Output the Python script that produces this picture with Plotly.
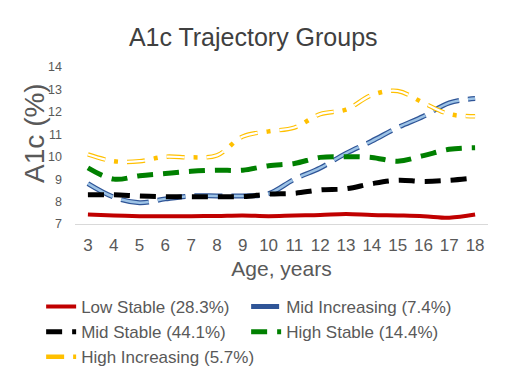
import plotly.graph_objects as go

ages = [str(a) for a in range(3, 19)]
low_stable = [7.42, 7.38, 7.35, 7.34, 7.35, 7.36, 7.38, 7.35, 7.38, 7.40, 7.45, 7.40, 7.38, 7.35, 7.28, 7.42]
mid_increasing = [8.8, 8.2, 7.95, 8.12, 8.25, 8.25, 8.25, 8.35, 9.0, 9.5, 10.15, 10.7, 11.3, 11.8, 12.4, 12.6]
mid_stable = [8.3, 8.3, 8.25, 8.22, 8.22, 8.22, 8.22, 8.33, 8.37, 8.52, 8.57, 8.8, 8.95, 8.9, 8.95, 9.06]
high_stable = [9.5, 9.0, 9.15, 9.25, 9.35, 9.4, 9.4, 9.6, 9.7, 9.97, 10.0, 9.97, 9.8, 10.05, 10.33, 10.4]
high_increasing = [10.1, 9.8, 9.8, 10.0, 9.97, 10.06, 10.9, 11.13, 11.3, 11.9, 12.1, 12.75, 12.93, 12.4, 11.9, 11.8]

names = ["Low Stable (28.3%)", "Mid Increasing (7.4%)", "Mid Stable (44.1%)",
         "High Stable (14.4%)", "High Increasing (5.7%)"]

fig = go.Figure()
# Low stable - solid red
fig.add_trace(go.Scatter(x=ages, y=low_stable, mode="lines", name=names[0],
                         line=dict(color="#C00000", width=4, shape="spline")))
# Mid increasing - outlined blue long dash
fig.add_trace(go.Scatter(x=ages, y=mid_increasing, mode="lines", name=names[1],
                         line=dict(color="#2F5597", width=5, dash="28px,9px", shape="spline")))
fig.add_trace(go.Scatter(x=ages, y=mid_increasing, mode="lines", showlegend=False,
                         line=dict(color="#9DC3E6", width=2.5, dash="28px,9px", shape="spline")))
# Mid stable - black dash
fig.add_trace(go.Scatter(x=ages, y=mid_stable, mode="lines", name=names[2],
                         line=dict(color="#000000", width=5, dash="16px,10px", shape="spline")))
# High stable - green dash
fig.add_trace(go.Scatter(x=ages, y=high_stable, mode="lines", name=names[3],
                         line=dict(color="#008000", width=5, dash="16px,10px", shape="spline")))
# High increasing - outlined yellow long dash dot
fig.add_trace(go.Scatter(x=ages, y=high_increasing, mode="lines", name=names[4],
                         line=dict(color="#FFC000", width=4.5, dash="18px,9px,4px,9px", shape="spline")))
fig.add_trace(go.Scatter(x=ages, y=high_increasing, mode="lines", showlegend=False,
                         line=dict(color="#FFFFFF", width=2.2, dash="18px,22px", shape="spline")))

fig.add_annotation(text="A1c (%)", xref="paper", yref="paper", x=-0.097, y=0.58,
                   xanchor="center", yanchor="middle", textangle=-90, showarrow=False,
                   font=dict(size=28, color="#595959"))

fig.update_layout(
    width=520, height=388,
    paper_bgcolor="white", plot_bgcolor="white",
    font=dict(family="Liberation Sans, Arial, sans-serif", color="#595959"),
    margin=dict(l=75, r=32, t=67, b=164, autoexpand=False),
    title=dict(text="A1c Trajectory Groups", x=0.487, xanchor="center", y=0.905, yanchor="middle",
               font=dict(size=25, color="#404040")),
    xaxis=dict(type="category", range=[-0.5, 15.5], showgrid=False, showline=True,
               linecolor="#D9D9D9", linewidth=1, ticks="", tickfont=dict(size=17, color="#595959"),
               ticklabelstandoff=6,
               title=dict(text="Age, years", font=dict(size=21, color="#595959"), standoff=6)),
    yaxis=dict(range=[7, 14], dtick=1, showgrid=False, zeroline=False, showline=False,
               tickfont=dict(size=12.5, color="#595959"), automargin=False, ticklabelstandoff=12),
    legend=dict(orientation="h", xref="paper", yref="paper", x=-0.082, y=-0.414,
                xanchor="left", yanchor="top", entrywidth=160, entrywidthmode="pixels",
                font=dict(size=17, color="#595959"), tracegroupgap=0, itemwidth=30),
    showlegend=True,
)

fig.write_html("out.html", config={"displayModeBar": False},
               post_script="document.body.style.margin='0';")
